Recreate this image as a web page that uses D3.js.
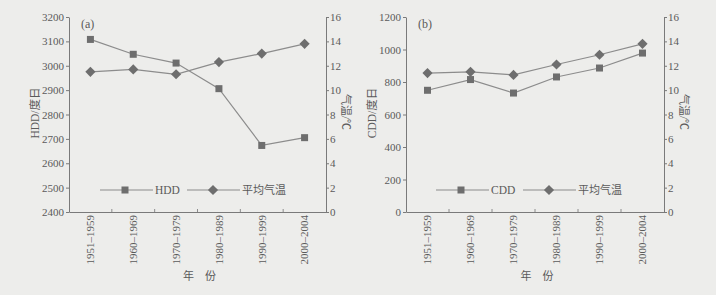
<!DOCTYPE html>
<html>
<head>
<meta charset="utf-8">
<script src="https://cdn.jsdelivr.net/npm/d3@7"></script>
<style>
  body { margin: 0; background: #ededeb; }
  svg { display: block; font-family: "Liberation Serif", "Noto Sans CJK SC", serif; }
</style>
</head>
<body>
<svg id="chart" width="716" height="295"></svg>
<script>
// 数据
var periods = ["1951–1959", "1960–1969", "1970–1979", "1980–1989", "1990–1999", "2000–2004"];
var hdd = [3108, 3047, 3011, 2906, 2673, 2705];
var cdd = [749, 815, 732, 831, 886, 978];
var tempA = [11.5, 11.7, 11.3, 12.3, 13.0, 13.8];
var tempB = [11.4, 11.5, 11.25, 12.1, 12.9, 13.8];
var hddTicks = d3.range(2400, 3201, 100);
var cddTicks = d3.range(0, 1201, 200);
var tempTicks = d3.range(0, 17, 2);

var svg = d3.select("#chart");
var textColor = "#5a5a5a";
var lineColor = "#8c8c8c";
var markColor = "#6e6e6e";

function drawPanel(opt) {
    var g = svg.append("g");
    var top = 17, bottom = 212;

    var x = d3.scaleBand().domain(periods).range([opt.left, opt.right]);
    var yL = d3.scaleLinear().domain(opt.leftDomain).range([bottom, top]);
    var yR = d3.scaleLinear().domain([0, 16]).range([bottom, top]);

    // 左轴
    var ax = g.append("g")
        .attr("transform", `translate(${opt.left},0)`)
        .call(d3.axisLeft(yL).tickValues(opt.leftTicks).tickFormat(d3.format("d"))
            .tickSize(3).tickSizeOuter(0).tickPadding(2));
    // 右轴
    var ar = g.append("g")
        .attr("transform", `translate(${opt.right},0)`)
        .call(d3.axisRight(yR).tickValues(tempTicks).tickFormat(d3.format("d"))
            .tickSize(3).tickSizeOuter(0).tickPadding(1));
    // x 轴
    var axb = g.append("g")
        .attr("transform", `translate(0,${bottom})`)
        .call(d3.axisBottom(x).tickSize(0).tickSizeOuter(0).tickPadding(0));
    axb.selectAll(".tick text")
        .attr("transform", "translate(0,3) rotate(-90)")
        .attr("text-anchor", "end")
        .attr("x", 0).attr("y", 0)
        .attr("dy", "0.35em");
    // 分隔刻度 (向上)
    g.selectAll(".sep")
        .data(periods.slice(1))
        .join("line")
        .attr("x1", d => x(d)).attr("x2", d => x(d))
        .attr("y1", bottom).attr("y2", bottom - 3)
        .attr("stroke", lineColor);

    [ax, ar, axb].forEach(a => {
        a.selectAll("path, line").attr("stroke", "#7a7a7a");
        a.selectAll("text").attr("fill", textColor).style("font-size", "11px")
            .style("font-family", "'Liberation Serif', serif");
    });

    var cx = d => x(d) + x.bandwidth() / 2;

    // 折线
    var lineL = d3.line().x((d, i) => cx(periods[i])).y(d => yL(d));
    var lineR = d3.line().x((d, i) => cx(periods[i])).y(d => yR(d));

    g.append("path").datum(opt.series)
        .attr("fill", "none").attr("stroke", lineColor).attr("stroke-width", 1.2)
        .attr("d", lineL);
    g.append("path").datum(opt.temp)
        .attr("fill", "none").attr("stroke", lineColor).attr("stroke-width", 1.2)
        .attr("d", lineR);

    // 方块
    g.selectAll(".sq")
        .data(opt.series)
        .join("rect")
        .attr("x", (d, i) => cx(periods[i]) - 3.5)
        .attr("y", d => yL(d) - 3.5)
        .attr("width", 7).attr("height", 7)
        .attr("fill", markColor);
    // 菱形
    g.selectAll(".dm")
        .data(opt.temp)
        .join("rect")
        .attr("x", -3.6).attr("y", -3.6)
        .attr("width", 7.2).attr("height", 7.2)
        .attr("transform", (d, i) => `translate(${cx(periods[i])},${yR(d)}) rotate(45)`)
        .attr("fill", markColor);

    // 图例
    var ly = 190;
    var lx = opt.legendX;
    g.append("line").attr("x1", lx).attr("x2", lx + 53).attr("y1", ly).attr("y2", ly)
        .attr("stroke", lineColor).attr("stroke-width", 1.2);
    g.append("rect").attr("x", lx + 25 - 3.5).attr("y", ly - 3.5)
        .attr("width", 7).attr("height", 7).attr("fill", markColor);
    g.append("text").attr("x", lx + 55).attr("y", ly).attr("dy", "0.35em")
        .attr("fill", textColor).style("font-size", "11.5px").text(opt.name);
    var lx2 = opt.legendX2;
    g.append("line").attr("x1", lx2).attr("x2", lx2 + 53).attr("y1", ly).attr("y2", ly)
        .attr("stroke", lineColor).attr("stroke-width", 1.2);
    g.append("rect").attr("x", -3.6).attr("y", -3.6).attr("width", 7.2).attr("height", 7.2)
        .attr("transform", `translate(${lx2 + 26},${ly}) rotate(45)`).attr("fill", markColor);
    g.append("text").attr("x", lx2 + 55).attr("y", ly).attr("dy", "0.35em")
        .attr("fill", textColor).style("font-size", "11px").text("平均气温");

    // 标题与轴标题
    g.append("text").attr("x", opt.left + 12).attr("y", 28)
        .attr("fill", textColor).style("font-size", "12px").text(opt.tag);
    g.append("text")
        .attr("transform", `translate(${opt.left - 34},113) rotate(-90)`)
        .attr("text-anchor", "middle").attr("dy", "0.35em")
        .attr("fill", textColor).style("font-size", "11.5px").text(opt.name + "/度日");
    g.append("text")
        .attr("transform", `translate(${opt.right + 20},112) rotate(90)`)
        .attr("text-anchor", "middle").attr("dy", "0.35em")
        .attr("fill", textColor).style("font-size", "11px").text("气温/℃");
    g.append("text")
        .attr("x", (opt.left + opt.right) / 2 + 2).attr("y", 280)
        .attr("text-anchor", "middle")
        .attr("fill", textColor).style("font-size", "11px").text("年　份");
}

drawPanel({
    left: 69, right: 326, leftDomain: [2400, 3200], leftTicks: hddTicks,
    series: hdd, temp: tempA, name: "HDD", tag: "(a)", legendX: 100, legendX2: 187
});
drawPanel({
    left: 406, right: 664, leftDomain: [0, 1200], leftTicks: cddTicks,
    series: cdd, temp: tempB, name: "CDD", tag: "(b)", legendX: 436, legendX2: 523
});
</script>
</body>
</html>
